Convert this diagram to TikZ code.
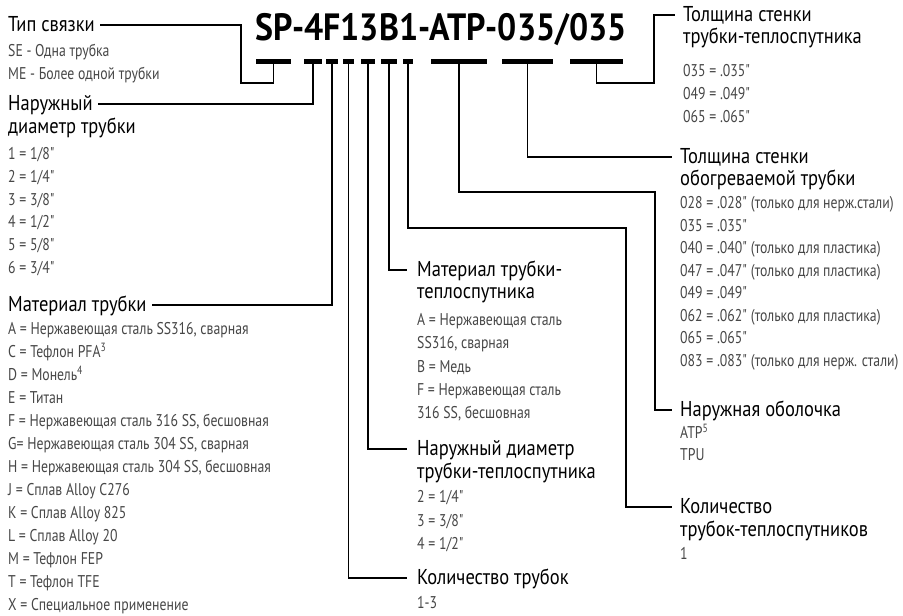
\documentclass[tikz,border=0pt]{standalone}
\usepackage{fontspec}
\setmainfont{PT Sans}
\newfontfamily\itfont{PT Sans}[FakeStretch=0.81]
\newfontfamily\hdfont{PT Sans}[FakeStretch=0.86]
\newfontfamily\ttlfont{PT Sans}[FakeStretch=0.89]
\definecolor{itemgray}{HTML}{474747}
\begin{document}
\begin{tikzpicture}[x=1pt,y=-1pt,
  hd/.style={anchor=west,inner sep=0pt,font=\hdfont\fontsize{21.5}{22}\selectfont,text=black,text height=15pt,text depth=2pt},
  it/.style={anchor=west,inner sep=0pt,font=\itfont\fontsize{17}{18}\selectfont,text=itemgray,text height=12pt,text depth=1pt},
  ttl/.style={anchor=base,inner sep=0pt,font=\ttlfont\bfseries\fontsize{38}{40}\selectfont,text=black},
  bar/.style={fill=black,draw=none,inner sep=0pt,minimum height=5pt},
  conn/.style={draw=black,line width=1.6pt}]
\fill[white] (0,0) rectangle (903,616);
\useasboundingbox (0,0) rectangle (903,616);

% title
\node[ttl] (title) at (441,40) {SP-4F13B1-ATP-035/035};

% bars
\node[bar,minimum width=35pt] (bSP)   at (273.5,61) {};
\node[bar,minimum width=18pt] (b4)    at (313,61) {};
\node[bar,minimum width=12pt] (bF)    at (332,61) {};
\node[bar,minimum width=11pt] (b1a)   at (348.5,61) {};
\node[bar,minimum width=14pt] (b3)    at (368,61) {};
\node[bar,minimum width=16pt] (bB)    at (389,61) {};
\node[bar,minimum width=10pt] (b1b)   at (408,61) {};
\node[bar,minimum width=56pt] (bATP)  at (459,61) {};
\node[bar,minimum width=51pt] (b035a) at (527.5,61) {};
\node[bar,minimum width=53pt] (b035b) at (596.5,61) {};

% left column
\node[hd] (hTip) at (8,25) {Тип связки};
\node[it] (tip1) at (8,51) {SE - Одна трубка};
\node[it] (tip2) at (8,74) {ME - Более одной трубки};

\node[hd] (hNar) at (8,104) {Наружный};
\node[hd] (hNarB) at (8,127) {диаметр трубки};
\foreach \t [count=\i] in {{1 = 1/8"},{2 = 1/4"},{3 = 3/8"},{4 = 1/2"},{5 = 5/8"},{6 = 3/4"}}
  \node[it] (nar\i) at (8,{154+(\i-1)*22.8}) {\t};

\node[hd] (hMat) at (8,305) {Материал трубки};
\foreach \t [count=\i] in {{A = Нержавеющая сталь SS316, сварная},{C = Тефлон PFA\textsuperscript{3}},{D = Монель\textsuperscript{4}},{E = Титан},{F = Нержавеющая сталь 316 SS, бесшовная},{G= Нержавеющая сталь 304 SS, сварная},{H = Нержавеющая сталь 304 SS, бесшовная},{J = Сплав Alloy C276},{K = Сплав Alloy 825},{L = Сплав Alloy 20},{M = Тефлон FEP},{T = Тефлон TFE},{X = Специальное применение}}
  \node[it] (mat\i) at (8,{329+(\i-1)*23.0}) {\t};

% middle column
\node[hd] (hMatT) at (417,270) {Материал трубки-};
\node[hd] (hMatTB) at (417,292) {теплоспутника};
\foreach \t [count=\i] in {{A = Нержавеющая сталь},{SS316, сварная},{B = Медь},{F = Нержавеющая сталь},{316 SS, бесшовная}}
  \node[it] (matT\i) at (417,{320+(\i-1)*23.3}) {\t};

\node[hd] (hNarT) at (417,449) {Наружный диаметр};
\node[hd] (hNarTB) at (417,472) {трубки-теплоспутника};
\foreach \t [count=\i] in {{2 = 1/4"},{3 = 3/8"},{4 = 1/2"}}
  \node[it] (narT\i) at (417,{497+(\i-1)*23.5}) {\t};

\node[hd] (hKol) at (417,578) {Количество трубок};
\node[it] (kol1) at (417,603) {1-3};

% right column
\node[hd] (hTolT) at (683,15) {Толщина стенки};
\node[hd] (hTolTB) at (683,37) {трубки-теплоспутника};
\foreach \t [count=\i] in {{035 = .035"},{049 = .049"},{065 = .065"}}
  \node[it] (tolT\i) at (683,{71+(\i-1)*23}) {\t};

\node[hd] (hTolO) at (680,157) {Толщина стенки};
\node[hd] (hTolOB) at (680,179) {обогреваемой трубки};
\foreach \t [count=\i] in {{028 = .028" (только для нерж.стали)},{035 = .035"},{040 = .040" (только для пластика)},{047 = .047" (только для пластика)},{049 = .049"},{062 = .062" (только для пластика)},{065 = .065"},{083 = .083" (только для нерж. стали)}}
  \node[it] (tolO\i) at (680,{203+(\i-1)*22.5}) {\t};

\node[hd] (hObol) at (680,410) {Наружная оболочка};
\node[it] (obol1) at (680,433) {ATP\textsuperscript{5}};
\node[it] (obol2) at (680,455) {TPU};

\node[hd] (hKolT) at (680,507) {Количество};
\node[hd] (hKolTB) at (680,530) {трубок-теплоспутников};
\node[it] (kolT1) at (680,554) {1};

% connectors
\coordinate (cTip) at (241,83);
\coordinate (cKolT) at (626,228);
\coordinate (cObol) at (655,192);
\coordinate (cTolT) at (654,83);
\draw[conn] (bSP.center) |- (cTip) |- ([xshift=5pt]hTip.east);
\draw[conn] (b4.center) |- ([xshift=5pt]hNar.east);
\draw[conn] (bF.center) |- ([xshift=5pt]hMat.east);
\draw[conn] (b1a.center) |- ([xshift=-10pt]hKol.west);
\draw[conn] (b3.center) |- ([xshift=-10pt]hNarT.west);
\draw[conn] (bB.center) |- ([xshift=-10pt]hMatT.west);
\draw[conn] (b1b.center) |- (cKolT) |- ([xshift=-8pt]hKolT.west);
\draw[conn] (bATP.center) |- (cObol) |- ([xshift=-8pt]hObol.west);
\draw[conn] (b035a.center) |- ([xshift=-8pt]hTolO.west);
\draw[conn] (b035b.center) |- (cTolT) |- ([xshift=-8pt]hTolT.west);
\end{tikzpicture}
\end{document}
